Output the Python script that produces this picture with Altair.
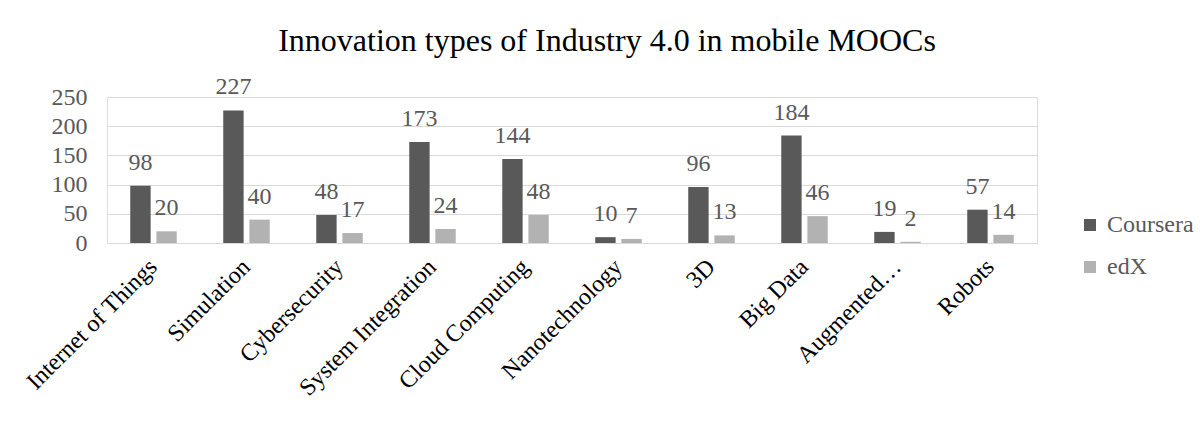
import altair as alt
import pandas as pd

categories = ["Internet of Things", "Simulation", "Cybersecurity", "System Integration",
              "Cloud Computing", "Nanotechnology", "3D", "Big Data", "Augmented…", "Robots"]
coursera = [98, 227, 48, 173, 144, 10, 96, 184, 19, 57]
edx = [20, 40, 17, 24, 48, 7, 13, 46, 2, 14]
series = ["Coursera", "edX"]
colors = ["#595959", "#B2B2B2"]
y_ticks = [0, 50, 100, 150, 200, 250]

rows = []
for c, a, b in zip(categories, coursera, edx):
    rows.append({"category": c, "platform": "Coursera", "count": a})
    rows.append({"category": c, "platform": "edX", "count": b})
df = pd.DataFrame(rows)

FONT = "Liberation Serif"

base = alt.Chart(df).encode(
    x=alt.X("category:N", sort=categories,
            scale=alt.Scale(paddingInner=0.5, paddingOuter=0.25),
            axis=alt.Axis(title=None, labelAngle=-45, labelAlign="right", labelBaseline="middle",
                          labelPadding=20, labelFontSize=24, labelFont=FONT,
                          labelColor="#000000", ticks=False, domain=True, domainColor="#D9D9D9",
                          labelLimit=400, grid=False)),
    xOffset=alt.XOffset("platform:N", sort=series,
                        scale=alt.Scale(paddingInner=0.22, paddingOuter=0)),
    y=alt.Y("count:Q", scale=alt.Scale(domain=[0, 250], nice=False),
            axis=alt.Axis(title=None, values=y_ticks, ticks=False, domain=False,
                          labelFontSize=24, labelFont=FONT, labelColor="#595959",
                          labelPadding=20, grid=True, gridColor="#D9D9D9", gridWidth=1)),
)

bars = base.mark_bar().encode(
    color=alt.Color("platform:N", sort=series,
                    scale=alt.Scale(domain=series, range=colors),
                    legend=alt.Legend(title=None, orient="none", legendX=971, legendY=116,
                                      symbolType="square", symbolSize=144, symbolStrokeWidth=0,
                                      labelFontSize=24, labelFont=FONT, labelColor="#595959",
                                      labelOffset=5, rowPadding=18, padding=0))
)

labels = base.mark_text(baseline="alphabetic", dy=-16, fontSize=24, font=FONT,
                        color="#595959").encode(text="count:Q")

chart = alt.layer(bars, labels).properties(
    width=930, height=146,
    title=alt.Title("Innovation types of Industry 4.0 in mobile MOOCs", font=FONT,
                    fontSize=32, fontWeight="normal", color="#000000",
                    anchor="middle", dx=35, offset=17),
    autosize=alt.AutoSizeParams(type="none"),
    padding={"left": 99, "top": 89, "right": 157, "bottom": 170},
).configure_view(stroke=None).configure(background="white", font=FONT)

chart.save("out.html", embed_options={"renderer": "svg", "actions": False})
